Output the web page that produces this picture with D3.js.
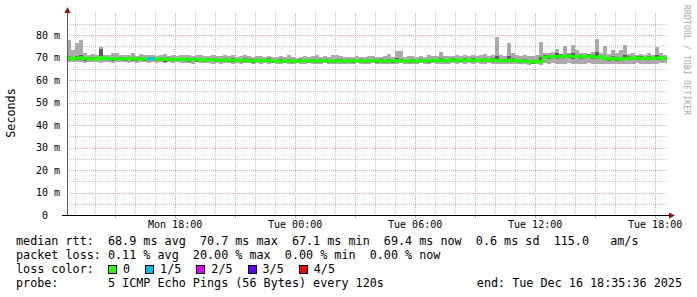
<!DOCTYPE html>
<html>
<head>
<meta charset="utf-8">
<script src="https://cdn.jsdelivr.net/npm/d3@7"></script>
<style>
  body { margin: 0; background: #fff; }
  svg { display: block; font-family: "DejaVu Sans Mono", monospace; }
  text { white-space: pre; }
</style>
</head>
<body>
<svg id="chart" width="697" height="297"></svg>
<script>
// one sample every 12 minutes, Mon 15 Dec 12:35:36 -> Tue 16 Dec 18:35:36 (UTC)
const medianRtt = [
  69.8, 69.5, 69.7, 69.9, 69.4, 69.6, 69.5, 69.3, 70.0, 69.5,
  69.6, 69.4, 69.3, 69.5, 69.3, 69.6, 69.4, 69.2, 69.4, 69.3,
  69.4, 69.5, 69.2, 69.3, 69.1, 69.3, 69.0, 69.2, 69.1, 69.3,
  68.9, 69.1, 69.0, 69.2, 68.8, 69.0, 69.1, 68.8, 68.7, 69.0,
  68.8, 68.9, 68.6, 68.8, 68.9, 68.6, 68.5, 68.8, 68.6, 68.7,
  68.9, 68.4, 68.2, 68.5, 68.3, 68.6, 68.4, 68.2, 68.5, 68.7,
  68.4, 68.6, 68.3, 68.5, 68.8, 68.4, 68.2, 68.6, 68.5, 68.3,
  68.6, 68.4, 68.7, 68.5, 68.3, 68.6, 68.8, 68.4, 68.5, 68.3,
  68.6, 68.4, 68.7, 68.5, 68.2, 68.4, 68.6, 68.3, 68.5, 68.7,
  68.4, 68.8, 68.6, 68.9, 68.5, 68.7, 68.9, 68.6, 68.8, 69.0,
  68.7, 68.9, 68.6, 68.8, 69.0, 68.7, 68.9, 68.6, 68.8, 68.5,
  68.7, 68.9, 68.6, 68.3, 68.5, 68.2, 68.0, 68.3, 68.1, 70.1,
  70.3, 70.5, 70.2, 70.6, 70.4, 70.7, 70.3, 70.5, 70.2, 70.4,
  70.6, 70.3, 70.1, 70.4, 69.6, 69.3, 69.7, 69.4, 69.2, 69.5,
  69.8, 69.6, 69.9, 69.7, 69.5, 69.8, 69.6, 69.7, 69.9, 69.4
];

// smoke: outer band (fastest / slowest ping)
const smokeLow = [
  67.9, 68.2, 67.8, 68.0, 67.6, 68.1, 67.9, 68.0, 67.5, 67.8,
  68.0, 67.7, 67.9, 68.1, 67.8, 67.6, 67.9, 67.7, 68.0, 67.8,
  67.6, 67.9, 67.7, 67.8, 67.5, 67.9, 67.6, 67.8, 67.4, 67.7,
  67.6, 67.3, 67.8, 67.5, 67.4, 67.7, 67.2, 67.5, 67.3, 67.6,
  67.4, 67.2, 67.5, 67.3, 67.6, 67.4, 67.1, 67.4, 67.3, 67.5,
  67.2, 67.4, 67.1, 67.3, 67.5, 67.2, 67.0, 67.4, 67.3, 67.1,
  67.4, 67.2, 67.3, 67.0, 67.4, 67.2, 67.1, 67.3, 67.2, 67.0,
  67.3, 67.1, 67.4, 67.2, 67.0, 67.3, 67.4, 67.1, 67.2, 67.0,
  67.3, 67.1, 67.2, 67.4, 67.0, 67.2, 67.3, 67.1, 67.4, 67.2,
  67.1, 67.4, 67.2, 67.3, 67.0, 67.3, 67.5, 67.2, 67.4, 67.3,
  67.4, 67.2, 67.5, 67.1, 67.3, 67.4, 67.2, 67.0, 67.3, 67.1,
  67.2, 67.0, 67.3, 66.9, 67.1, 66.8, 66.9, 67.0, 66.8, 67.4,
  67.2, 67.5, 67.0, 67.3, 67.1, 67.4, 67.2, 66.9, 67.3, 67.1,
  67.4, 67.0, 67.2, 67.3, 66.9, 67.1, 67.3, 67.0, 67.2, 66.9,
  67.3, 67.1, 67.4, 67.2, 67.0, 67.3, 67.1, 67.2, 67.4, 67.6
];
const smokeHigh = [
  78.0, 73.3, 76.3, 77.8, 72.0, 71.2, 71.5, 71.0, 74.8, 71.3,
  71.1, 72.0, 72.0, 71.0, 70.9, 71.3, 72.1, 70.8, 71.5, 71.0,
  70.9, 71.2, 70.7, 71.0, 71.4, 70.8, 71.1, 70.6, 71.0, 70.9,
  71.3, 70.7, 70.9, 71.2, 70.6, 70.8, 71.0, 70.5, 70.8, 71.1,
  70.6, 70.9, 70.4, 70.7, 71.0, 70.5, 70.3, 70.8, 70.6, 70.4,
  70.7, 70.3, 70.1, 70.5, 70.2, 71.1, 70.4, 70.0, 70.3, 70.6,
  70.2, 70.5, 71.0, 70.3, 70.6, 70.2, 70.9, 70.9, 70.8, 70.1,
  70.4, 70.2, 70.6, 70.3, 70.1, 70.5, 70.7, 70.2, 70.4, 70.6,
  71.6, 70.4, 73.0, 73.0, 70.3, 70.5, 70.8, 70.2, 70.6, 70.4,
  71.3, 70.7, 70.5, 72.4, 70.6, 70.8, 70.5, 71.1, 70.7, 70.9,
  70.8, 71.2, 70.6, 71.0, 71.4, 70.7, 71.1, 79.0, 71.3, 70.8,
  76.6, 72.1, 71.0, 70.6, 70.9, 70.5, 70.8, 71.2, 77.0, 72.0,
  71.8, 72.3, 74.0, 71.5, 75.1, 72.0, 75.6, 73.3, 71.9, 72.2,
  71.7, 72.4, 78.1, 71.8, 75.1, 71.5, 73.3, 72.0, 73.3, 75.6,
  71.4, 71.8, 71.2, 71.6, 71.3, 71.9, 71.2, 74.5, 72.1, 71.0
];

// smoke: inner band (2nd / 4th ping)
const innerLow = [
  68.9, 68.8, 69.0, 69.1, 68.6, 68.9, 68.7, 68.8, 69.2, 68.7,
  68.9, 68.6, 68.7, 68.8, 68.5, 68.9, 68.6, 68.4, 68.7, 68.5,
  68.7, 68.8, 68.4, 68.6, 68.2, 68.6, 68.3, 68.5, 68.3, 68.6,
  68.1, 68.4, 68.2, 68.5, 68.0, 68.3, 68.4, 67.9, 67.8, 68.3,
  68.0, 68.2, 67.8, 68.1, 68.2, 67.8, 67.7, 68.1, 67.9, 68.0,
  68.2, 67.6, 67.5, 67.8, 67.6, 67.9, 67.6, 67.4, 67.8, 68.0,
  67.7, 67.9, 67.5, 67.8, 68.1, 67.6, 67.4, 67.9, 67.8, 67.5,
  67.9, 67.6, 68.0, 67.8, 67.5, 67.9, 68.1, 67.6, 67.8, 67.5,
  67.9, 67.6, 68.0, 67.8, 67.4, 67.7, 67.9, 67.5, 67.8, 68.0,
  67.7, 68.1, 67.9, 68.2, 67.8, 68.0, 68.2, 67.9, 68.1, 68.3,
  68.0, 68.2, 67.9, 68.1, 68.3, 68.0, 68.2, 67.9, 68.1, 67.8,
  68.0, 68.2, 67.9, 67.6, 67.8, 67.5, 67.3, 67.6, 67.4, 69.3,
  69.5, 69.7, 69.4, 69.8, 69.6, 69.9, 69.5, 69.7, 69.4, 69.6,
  69.8, 69.5, 69.3, 69.6, 68.8, 68.5, 68.9, 68.6, 68.4, 68.7,
  69.0, 68.8, 69.1, 68.9, 68.7, 69.0, 68.8, 68.9, 69.1, 68.8
];
const innerHigh = [
  70.6, 70.2, 70.5, 70.9, 70.1, 70.3, 70.2, 70.0, 74.0, 70.2,
  70.3, 70.1, 70.0, 70.2, 70.0, 70.3, 70.1, 69.9, 70.1, 70.0,
  70.1, 70.2, 69.9, 70.0, 69.8, 70.0, 69.7, 69.9, 69.8, 70.0,
  69.6, 69.8, 69.7, 69.9, 69.5, 69.7, 69.8, 69.5, 69.4, 69.7,
  69.5, 69.6, 69.3, 69.5, 69.6, 69.3, 69.2, 69.5, 69.3, 69.4,
  69.6, 69.1, 68.9, 69.2, 69.0, 69.3, 69.1, 68.9, 69.2, 69.4,
  69.1, 69.3, 69.0, 69.2, 69.5, 69.1, 68.9, 69.3, 69.2, 69.0,
  69.3, 69.1, 69.4, 69.2, 69.0, 69.3, 69.5, 69.1, 69.2, 69.0,
  69.3, 69.1, 69.6, 69.4, 68.9, 69.1, 69.3, 69.0, 69.2, 69.4,
  69.1, 69.5, 69.3, 69.8, 69.2, 69.4, 69.6, 69.3, 69.5, 69.7,
  69.4, 69.6, 69.3, 69.5, 69.7, 69.4, 69.6, 70.5, 69.5, 69.2,
  70.8, 69.6, 69.3, 69.0, 69.2, 68.9, 68.7, 69.0, 70.2, 70.9,
  71.1, 71.3, 72.0, 71.4, 71.2, 71.5, 71.8, 71.3, 71.0, 71.2,
  71.4, 71.1, 72.5, 71.2, 70.4, 70.1, 70.8, 70.2, 70.0, 71.0,
  70.6, 70.4, 70.7, 70.5, 70.3, 70.6, 70.4, 71.2, 70.7, 70.2
];

// [sample index, pings lost of 5]
const lossEvents = [[20, 1], [21, 1]];

const lossLabels = ['0', '1/5', '2/5', '3/5', '4/5'];
const lossColors = ['#22ff00', '#00b8ff', '#dd00ff', '#5e00ff', '#ff0000'];

const yTicks = [0, 10, 20, 30, 40, 50, 60, 70, 80];
const yTickLabels = ['0  ', '10 m', '20 m', '30 m', '40 m', '50 m', '60 m', '70 m', '80 m'];

const legendRtt = 'median rtt:  68.9 ms avg  70.7 ms max  67.1 ms min  69.4 ms now  0.6 ms sd  115.0   am/s';
const legendLoss = 'packet loss: 0.11 % avg  20.00 % max  0.00 % min  0.00 % now';
const legendProbe = 'probe:       5 ICMP Echo Pings (56 Bytes) every 120s';
const legendEnd = 'end: Tue Dec 16 18:35:36 2025';

const startTime = new Date(Date.UTC(2025, 11, 15, 12, 35, 36));
const endTime = new Date(Date.UTC(2025, 11, 16, 18, 35, 36));
const stepMs = 12 * 60 * 1000;

const plot = { left: 67, right: 667, top: 13, bottom: 215 };
const charW = 7.08;

const svg = d3.select('#chart');
svg.append('rect').attr('width', 697).attr('height', 297).attr('fill', '#fff');

const x = d3.scaleUtc().domain([startTime, endTime]).range([plot.left, plot.right]);
const y = d3.scaleLinear().domain([0, 89.78]).range([plot.bottom, plot.top]);

const points = medianRtt.map((m, i) => ({
  t0: new Date(startTime.getTime() + i * stepMs),
  t1: new Date(startTime.getTime() + (i + 1) * stepMs),
  median: m, lo: smokeLow[i], hi: smokeHigh[i], ilo: innerLow[i], ihi: innerHigh[i]
}));

// grid
const grid = svg.append('g').attr('shape-rendering', 'crispEdges').attr('stroke-dasharray', '1,1');
d3.range(5, 90, 5).forEach(v => {
  const yy = Math.round(y(v)) + 0.5;
  grid.append('line')
    .attr('x1', plot.left).attr('x2', plot.right)
    .attr('y1', yy).attr('y2', yy)
    .attr('stroke', v % 10 === 0 ? '#e6a3a3' : '#c4c4c4');
});
const hours = d3.utcHour.range(d3.utcHour.ceil(startTime), endTime);
hours.forEach(h => {
  const xx = Math.round(x(h)) + 0.5;
  grid.append('line')
    .attr('x1', xx).attr('x2', xx)
    .attr('y1', plot.top).attr('y2', plot.bottom)
    .attr('stroke', h.getUTCHours() % 3 === 0 ? '#e6a3a3' : '#c4c4c4');
});

// smoke
const smoke = svg.append('g').attr('shape-rendering', 'crispEdges');
smoke.selectAll('.outer')
  .data(points)
  .enter().append('rect')
  .attr('class', 'outer')
  .attr('x', d => x(d.t0))
  .attr('width', d => x(d.t1) - x(d.t0))
  .attr('y', d => y(d.hi))
  .attr('height', d => y(d.lo) - y(d.hi))
  .attr('fill', '#ababab');
smoke.selectAll('.inner')
  .data(points)
  .enter().append('rect')
  .attr('class', 'inner')
  .attr('x', d => x(d.t0))
  .attr('width', d => x(d.t1) - x(d.t0))
  .attr('y', d => y(d.ihi))
  .attr('height', d => y(d.ilo) - y(d.ihi))
  .attr('fill', '#5c5c5c');

// median line
const linePts = points.map(d => [x(d.t0), y(d.median)]);
linePts.push([x(endTime), y(medianRtt[medianRtt.length - 1])]);
svg.append('path')
  .attr('d', d3.line().curve(d3.curveStepAfter)(linePts))
  .attr('fill', 'none')
  .attr('stroke', lossColors[0])
  .attr('stroke-width', 3);

lossEvents.forEach(([i, lost]) => {
  const d = points[i];
  svg.append('line')
    .attr('x1', x(d.t0)).attr('x2', x(d.t1))
    .attr('y1', y(d.median)).attr('y2', y(d.median))
    .attr('stroke', lossColors[lost])
    .attr('stroke-width', 3);
});

// axes
svg.append('line')
  .attr('x1', plot.left + 0.5).attr('x2', plot.left + 0.5)
  .attr('y1', plot.bottom + 0.5).attr('y2', 11)
  .attr('stroke', '#5a5a5a').attr('shape-rendering', 'crispEdges');
svg.append('path')
  .attr('d', `M${plot.left - 2.5},13 L${plot.left + 3.5},13 L${plot.left + 0.5},7 Z`)
  .attr('fill', '#8b1010');
svg.append('line')
  .attr('x1', plot.left - 5).attr('x2', 670)
  .attr('y1', plot.bottom + 0.5).attr('y2', plot.bottom + 0.5)
  .attr('stroke', '#000').attr('shape-rendering', 'crispEdges');
svg.append('path')
  .attr('d', `M669,${plot.bottom - 2.5} L669,${plot.bottom + 3.5} L675,${plot.bottom + 0.5} Z`)
  .attr('fill', '#8b1010');

hours.filter(h => h.getUTCHours() % 3 === 0).forEach(h => {
  const xx = Math.round(x(h)) + 0.5;
  svg.append('line')
    .attr('x1', xx).attr('x2', xx)
    .attr('y1', plot.bottom + 1).attr('y2', plot.bottom + 3)
    .attr('stroke', '#e6a3a3');
});

// tick labels
svg.append('g').selectAll('text')
  .data(yTicks)
  .enter().append('text')
  .attr('x', 60)
  .attr('y', d => y(d) + 3.6)
  .attr('text-anchor', 'end')
  .style('font-size', '10px')
  .attr('fill', '#000')
  .text((d, i) => yTickLabels[i]);

const fmt = d3.utcFormat('%a %H:%M');
svg.append('g').selectAll('text')
  .data(hours.filter(h => h.getUTCHours() % 6 === 0))
  .enter().append('text')
  .attr('x', d => x(d))
  .attr('y', 228)
  .attr('text-anchor', 'middle')
  .style('font-size', '10px')
  .text(d => fmt(d));

// axis title
svg.append('text')
  .attr('transform', 'translate(15,113) rotate(-90)')
  .attr('text-anchor', 'middle')
  .style('font-size', '11.75px')
  .text('Seconds');

// watermark
svg.append('text')
  .attr('transform', 'translate(684,5) rotate(90)')
  .style('font-size', '8px')
  .attr('fill', '#a8a8a8')
  .attr('textLength', 110)
  .text('RRDTOOL / TOBI OETIKER');

// legend
const legend = svg.append('g').style('font-size', '11.75px').attr('fill', '#000');
legend.append('text').attr('x', 16).attr('y', 245).text(legendRtt);
legend.append('text').attr('x', 16).attr('y', 259).text(legendLoss);
legend.append('text').attr('x', 16).attr('y', 273).text('loss color:');
legend.append('text').attr('x', 16).attr('y', 287).text(legendProbe);
legend.append('text').attr('x', 682).attr('y', 287).attr('text-anchor', 'end').text(legendEnd);

let sx = 108.5;
lossLabels.forEach((lbl, i) => {
  legend.append('rect')
    .attr('x', sx).attr('y', 265.5)
    .attr('width', 8).attr('height', 8)
    .attr('fill', lossColors[i])
    .attr('stroke', '#000')
    .attr('shape-rendering', 'crispEdges');
  legend.append('text').attr('x', sx + 14.5).attr('y', 273).text(lbl);
  sx += 14.5 + lbl.length * charW + 15.5;
});
</script>
</body>
